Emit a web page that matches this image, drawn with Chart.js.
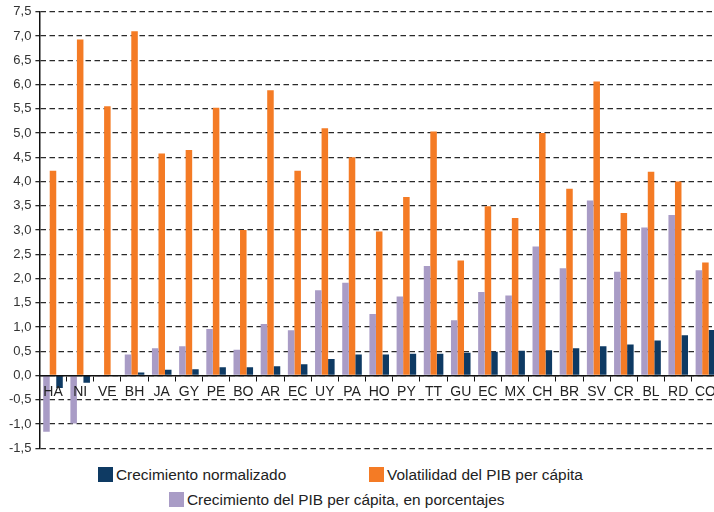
<!DOCTYPE html>
<html>
<head>
<meta charset="utf-8">
<script src="https://cdn.jsdelivr.net/npm/chart.js@4/dist/chart.umd.min.js"></script>
<style>
  html, body { margin: 0; padding: 0; background: #fff; overflow: hidden; }
  #wrap { position: relative; width: 714px; height: 512px; overflow: hidden; }
  #caja { position: absolute; left: 0; top: 0; width: 719px; height: 460px; }
  .leg { position: absolute; font: 15.4px "Liberation Sans", Arial, sans-serif; color: #222; white-space: nowrap; line-height: 16px; }
  .leg i { display: inline-block; width: 15px; height: 15px; vertical-align: top; margin-right: 3px; }
</style>
</head>
<body>
<div id="wrap">
  <div id="caja"><canvas id="grafico"></canvas></div>
  <div class="leg" style="left:98px;top:467px"><i style="background:#0e3a63"></i>Crecimiento normalizado</div>
  <div class="leg" style="left:369px;top:467px"><i style="background:#f47b25"></i>Volatilidad del PIB per cápita</div>
  <div class="leg" style="left:169px;top:492px"><i style="background:#a99cc6"></i>Crecimiento del PIB per cápita, en porcentajes</div>
</div>
<script>
// datos
const paises = ['HA', 'NI', 'VE', 'BH', 'JA', 'GY', 'PE', 'BO', 'AR', 'EC', 'UY', 'PA', 'HO',
  'PY', 'TT', 'GU', 'EC', 'MX', 'CH', 'BR', 'SV', 'CR', 'BL', 'RD', 'CO'];
const crecimientoPib = [-1.16, -0.99, -0.02, 0.43, 0.56, 0.60, 0.96, 0.53, 1.06, 0.93, 1.76, 1.91, 1.27,
  1.63, 2.26, 1.14, 1.72, 1.65, 2.66, 2.21, 3.61, 2.14, 3.05, 3.31, 2.17];
const volatilidadPib = [4.22, 6.93, 5.55, 7.10, 4.58, 4.65, 5.52, 3.00, 5.88, 4.22, 5.10, 4.50, 2.97,
  3.68, 5.03, 2.37, 3.49, 3.25, 5.00, 3.85, 6.06, 3.35, 4.20, 4.00, 2.33];
const crecimientoNorm = [-0.26, -0.15, 0.0, 0.06, 0.12, 0.13, 0.17, 0.17, 0.19, 0.23, 0.34, 0.43, 0.43,
  0.45, 0.45, 0.47, 0.49, 0.51, 0.52, 0.56, 0.60, 0.64, 0.72, 0.83, 0.94];
const ticksY = [-1.5, -1.0, -0.5, 0.0, 0.5, 1.0, 1.5, 2.0, 2.5, 3.0, 3.5, 4.0, 4.5, 5.0, 5.5, 6.0, 6.5, 7.0, 7.5];

const fuente = '"Liberation Sans", Arial, sans-serif';

new Chart(document.getElementById('grafico'), {
  type: 'bar',
  data: {
    labels: paises,
    datasets: [
      { label: 'Crecimiento del PIB per cápita, en porcentajes', data: crecimientoPib, backgroundColor: '#a99cc6' },
      { label: 'Volatilidad del PIB per cápita', data: volatilidadPib, backgroundColor: '#f47b25' },
      { label: 'Crecimiento normalizado', data: crecimientoNorm, backgroundColor: '#0e3a63' }
    ]
  },
  options: {
    responsive: true,
    maintainAspectRatio: false,
    animation: false,
    layout: { padding: { left: 5, top: 4, right: 0, bottom: 0 } },
    datasets: { bar: { categoryPercentage: 0.72, barPercentage: 1.0 } },
    plugins: { legend: { display: false }, tooltip: { enabled: false } },
    scales: {
      x: {
        position: { y: 0 },
        offset: true,
        grid: { drawOnChartArea: false, drawTicks: true, tickLength: 5, color: '#111', tickWidth: 1, z: 1 },
        border: { display: true, color: '#111', width: 1.5, z: 1 },
        ticks: { z: 1, color: '#222', font: { family: fuente, size: 14 }, padding: 3, maxRotation: 0, autoSkip: false }
      },
      y: {
        min: -1.5,
        max: 7.5,
        afterBuildTicks: s => { s.ticks = ticksY.map(v => ({ value: v })); },
        grid: { color: '#2a2a2a', lineWidth: 1.3, tickLength: 4, tickBorderDash: [] },
        border: { display: true, color: '#111', width: 1.5, dash: [5.5, 3.5] },
        ticks: {
          color: '#333',
          padding: 4,
          font: { family: fuente, size: 13 },
          callback: v => v.toFixed(1).replace('.', ',')
        }
      }
    }
  }
});
</script>
</body>
</html>
